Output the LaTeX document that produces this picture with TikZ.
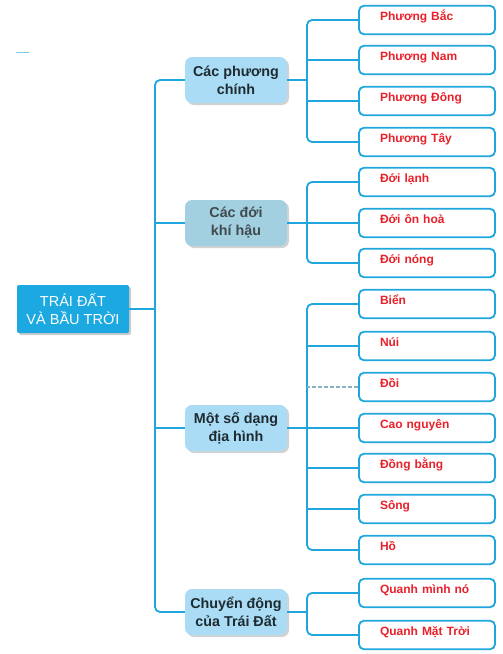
\documentclass[tikz,border=0pt]{standalone}
\usepackage{fontspec}
\setmainfont{Liberation Sans}
\usepackage{xcolor}
\usepackage{tikz}
\usetikzlibrary{shadows}

\definecolor{rootblue}{HTML}{1CA8E0}
\definecolor{linkblue}{HTML}{1FA6DC}
\definecolor{topicfill}{HTML}{AADDF5}
\definecolor{climfill}{HTML}{A2D0E0}
\definecolor{leafred}{HTML}{E8212B}
\definecolor{topictext}{HTML}{1E2A30}

\begin{document}
\begin{tikzpicture}[x=1pt, y=-1pt,
        link/.style={draw=linkblue, line width=1.8pt, rounded corners=5pt},
        rootbox/.style={fill=rootblue, rounded corners=2pt, minimum width=112pt,
            minimum height=48pt, align=center, text=white,
            font=\fontsize{14.5}{18}\selectfont,
            drop shadow={shadow xshift=2pt, shadow yshift=-2pt, fill=black!40}},
        topic/.style={fill=topicfill, rounded corners=7pt, minimum width=102pt,
            minimum height=46pt, align=center, text=topictext,
            font=\bfseries\fontsize{14.3}{18}\selectfont,
            drop shadow={shadow xshift=2pt, shadow yshift=-2pt, fill=black!35}},
        leaf/.style={draw=linkblue, line width=1.8pt, rounded corners=5pt, fill=white,
            text width=94pt, inner xsep=21pt, inner ysep=5.5pt, minimum height=28pt,
            align=left, text height=9pt, text depth=8.5pt, text=leafred,
            font=\bfseries\fontsize{12}{13}\selectfont}]
        \useasboundingbox (0,0) rectangle (503,654);

        \draw[draw=linkblue!60, line width=1pt] (16,52) -- (29,52);

        % root and topics
        \node[rootbox] (root) at (73,309) {TRÁI ĐẤT\\VÀ BẦU TRỜI};
        \node[topic] (phuong) at (236,80) {Các phương\\chính};
        \node[topic, fill=climfill, text=topictext!85] (doi) at (236,223) {Các đới\\khí hậu};
        \node[topic] (diahinh) at (236,428) {Một số dạng\\địa hình};
        \node[topic] (chuyen) at (236,612) {Chuyển động\\của Trái Đất};

        % leaves
        \node[leaf] (bac) at (427,20) {Phương Bắc};
        \node[leaf] (nam) at (427,60) {Phương Nam};
        \node[leaf] (dong) at (427,101) {Phương Đông};
        \node[leaf] (tay) at (427,142) {Phương Tây};

        \node[leaf] (lanh) at (427,182) {Đới lạnh};
        \node[leaf] (onhoa) at (427,223) {Đới ôn hoà};
        \node[leaf] (nong) at (427,263) {Đới nóng};

        \node[leaf] (bien) at (427,304) {Biển};
        \node[leaf] (nui) at (427,346) {Núi};
        \node[leaf] (doii) at (427,387) {Đồi};
        \node[leaf] (caonguyen) at (427,428) {Cao nguyên};
        \node[leaf] (dongbang) at (427,468) {Đồng bằng};
        \node[leaf] (song) at (427,509) {Sông};
        \node[leaf] (ho) at (427,550) {Hồ};

        \node[leaf] (quanhminh) at (427,593) {Quanh mình nó};
        \node[leaf] (quanhtroi) at (427,635) {Quanh Mặt Trời};

        \coordinate (trunk) at (155,0);
        \coordinate (fork) at (307,0);

        % left trunk
        \draw[link] (phuong.west) -| (trunk |- chuyen.west) -- (chuyen.west);
        \draw[link] (root.east) -- (trunk |- root.east);
        \draw[link] (doi.west) -- (trunk |- doi.west);
        \draw[link] (diahinh.west) -- (trunk |- diahinh.west);

        % right forks
        \draw[link] (bac.west) -| (fork |- tay.west) -- (tay.west);
        \draw[link] (phuong.east) -- (fork |- phuong.east);
        \draw[link] (nam.west) -- (fork |- nam.west);
        \draw[link] (dong.west) -- (fork |- dong.west);

        \draw[link] (lanh.west) -| (fork |- nong.west) -- (nong.west);
        \draw[link] (doi.east) -- (fork |- doi.east);
        \draw[link] (onhoa.west) -- (fork |- onhoa.west);

        \draw[link] (bien.west) -| (fork |- ho.west) -- (ho.west);
        \draw[link] (diahinh.east) -- (fork |- diahinh.east);
        \draw[link] (nui.west) -- (fork |- nui.west);
        \draw[link, draw=linkblue!45!gray!70, dash pattern=on 4pt off 2pt] (doii.west) -- (fork |- doii.west);
        \draw[link] (caonguyen.west) -- (fork |- caonguyen.west);
        \draw[link] (dongbang.west) -- (fork |- dongbang.west);
        \draw[link] (song.west) -- (fork |- song.west);

        \draw[link] (quanhminh.west) -| (fork |- quanhtroi.west) -- (quanhtroi.west);
        \draw[link] (chuyen.east) -- (fork |- chuyen.east);
    \end{tikzpicture}
\end{document}
